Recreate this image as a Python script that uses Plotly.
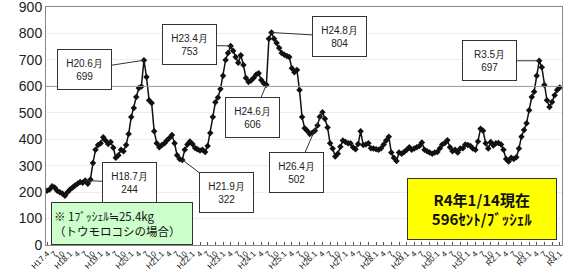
import plotly.graph_objects as go
import pandas as pd

# Monthly corn price (cents/bushel), Apr 2005 .. Jan 2022
v2005 = [205, 210, 222, 218, 205, 200, 195, 186, 200]
v2006 = [210, 218, 225, 232, 238, 236, 244, 232, 248, 310, 360, 378]
v2007 = [385, 408, 395, 382, 390, 368, 330, 340, 360, 355, 378, 420]
v2008 = [484, 518, 560, 594, 600, 699, 636, 548, 537, 430, 385, 370]
v2009 = [378, 385, 395, 405, 416, 385, 340, 325, 322, 360, 380, 392]
v2010 = [382, 367, 362, 358, 360, 352, 375, 424, 484, 540, 558, 590]
v2011 = [640, 700, 726, 753, 735, 711, 690, 718, 681, 632, 617, 622]
v2012 = [632, 645, 650, 624, 612, 606, 780, 804, 780, 764, 745, 726]
v2013 = [720, 715, 711, 669, 654, 662, 586, 484, 442, 432, 420, 425]
v2014 = [432, 452, 485, 502, 478, 445, 385, 365, 335, 345, 372, 395]
v2015 = [390, 385, 385, 370, 362, 382, 430, 378, 380, 385, 366, 365]
v2016 = [362, 360, 366, 380, 395, 410, 350, 330, 318, 350, 345, 352]
v2017 = [360, 370, 360, 365, 370, 375, 388, 360, 355, 350, 345, 350]
v2018 = [352, 366, 380, 386, 396, 370, 355, 360, 350, 365, 366, 380]
v2019 = [378, 375, 365, 360, 392, 440, 432, 385, 365, 390, 376, 385]
v2020 = [386, 380, 360, 325, 316, 330, 325, 332, 365, 410, 435, 461]
v2021 = [510, 560, 580, 640, 697, 673, 605, 548, 522, 541, 567, 586]
v2022 = [596]

values = (v2005 + v2006 + v2007 + v2008 + v2009 + v2010 + v2011 + v2012 + v2013
          + v2014 + v2015 + v2016 + v2017 + v2018 + v2019 + v2020 + v2021 + v2022)
months = pd.date_range("2005-04-01", periods=len(values), freq="MS")

tick_labels = ["H17.4", "7", "10",
               "H18.1", "4", "7", "10", "H19.1", "4", "7", "10",
               "H20.1", "4", "7", "10", "H21.1", "4", "7", "10",
               "H22.1", "4", "7", "10", "H23.1", "4", "7", "10",
               "H24.1", "4", "7", "10", "H25.1", "4", "7", "10",
               "H26.1", "4", "7", "10", "H27.1", "4", "7", "10",
               "H28.1", "4", "7", "10", "H29.1", "4", "7", "10",
               "H30.1", "4", "7", "10", "H31.1", "4", "7", "10",
               "R2.1", "4", "7", "10", "R3.1", "4", "7", "10", "R4.1"]
tick_dates = pd.date_range("2005-04-01", periods=len(tick_labels), freq="3MS")

# Callouts: (date, value, label, box offset x, box offset y)
callouts = [
    ("2006-07-01", 244, "H18.7月<br>244", 44, 2),
    ("2008-06-01", 699, "H20.6月<br>699", -59, 9),
    ("2009-09-01", 322, "H21.9月<br>322", 44, 33),
    ("2011-04-01", 753, "H23.4月<br>753", -41, -1),
    ("2012-06-01", 606, "H24.6月<br>606", -14, 33),
    ("2012-08-01", 804, "H24.8月<br>804", 68, 4),
    ("2014-04-01", 502, "H26.4月<br>502", -26, 60),
    ("2021-05-01", 697, "R3.5月<br>697", -50, 0),
]

fig = go.Figure()
fig.add_trace(go.Scatter(
    x=months, y=values, mode="lines+markers",
    line=dict(color="#111111", width=1.5),
    marker=dict(symbol="diamond", size=5, color="#111111"),
    showlegend=False, hoverinfo="skip"))

annotations = []
for d, v, txt, ax, ay in callouts:
    annotations.append(dict(
        x=d, y=v, xref="x", yref="y", text=txt, showarrow=True,
        arrowhead=0, arrowwidth=1, arrowcolor="#333333", ax=ax, ay=ay,
        font=dict(family="Liberation Sans, Arial", size=10, color="#222222"),
        bgcolor="white", bordercolor="#333333", borderwidth=1,
        width=51, height=37, align="center"))

annotations.append(dict(
    x=0.01, y=0.0, xref="paper", yref="paper", xanchor="left", yanchor="bottom",
    text="※ 1ﾌﾞｯｼｪﾙ≒25.4kg<br>（トウモロコシの場合）", showarrow=False, align="left",
    font=dict(family="Noto Sans CJK JP", size=11.5, color="#111111"),
    bgcolor="#ccffcc", bordercolor="#333333", borderwidth=1, borderpad=2,
    width=136, height=37))
annotations.append(dict(
    x=0.845, y=0.151, xref="paper", yref="paper", xanchor="center", yanchor="middle",
    text="<b>R4年1/14現在<br>596ｾﾝﾄ/ﾌﾞｯｼｪﾙ</b>", showarrow=False, align="center",
    font=dict(family="Noto Sans CJK JP", size=15, color="#111111"),
    bgcolor="#ffff00", bordercolor="#333333", borderwidth=1, borderpad=3,
    width=142, height=54))

fig.update_layout(
    width=563, height=278,
    margin=dict(l=46, r=1, t=7, b=33),
    paper_bgcolor="white", plot_bgcolor="white",
    annotations=annotations,
    shapes=[dict(type="line", xref="paper", yref="y", x0=0, x1=1, y0=600, y1=600,
                 line=dict(color="#999999", width=1))],
)
fig.update_xaxes(
    range=["2005-03-20", "2022-01-28"], tickmode="array",
    tickvals=tick_dates, ticktext=tick_labels, tickangle=-45,
    tickfont=dict(family="Liberation Sans, Arial", size=8, color="#111111"),
    ticks="inside", ticklen=3, tickcolor="#555555", ticklabeloverflow="allow",
    showline=True, linecolor="#888888", mirror=True, showgrid=False, automargin=False)
fig.update_yaxes(
    range=[0, 900.5], tickvals=list(range(0, 901, 100)),
    tickfont=dict(family="Liberation Sans, Arial", size=14, color="#222222"),
    showline=True, linecolor="#888888", mirror=True, ticks="", ticklabeloverflow="allow",
    showgrid=True, gridcolor="#eeeeee", zeroline=False, automargin=False)

fig.write_html("out.html", config={"displayModeBar": False},
               post_script="document.body.style.margin='0';")
